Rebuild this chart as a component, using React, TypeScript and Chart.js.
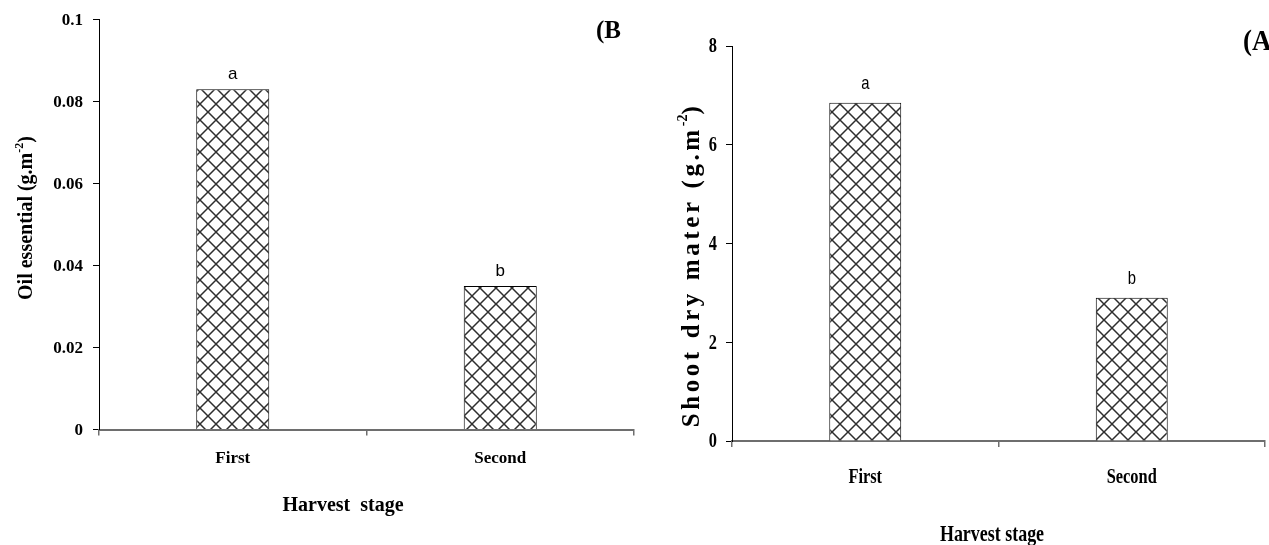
import React, { useEffect, useRef } from "react";
import { Chart, registerables } from "chart.js";

Chart.register(...registerables);

// ---------- data ----------
const categories = ["First", "Second"];

const oilValues = [0.083, 0.035];
const oilLetters = ["a", "b"];
const oilTicks = [0, 0.02, 0.04, 0.06, 0.08, 0.1];
const oilTickLabels = ["0", "0.02", "0.04", "0.06", "0.08", "0.1"];

const shootValues = [6.85, 2.9];
const shootLetters = ["a", "b"];
const shootTicks = [0, 2, 4, 6, 8];
const shootTickLabels = ["0", "2", "4", "6", "8"];

// ---------- helpers ----------
function makePattern(): CanvasPattern | string {
  const size = 16;
  const c = document.createElement("canvas");
  c.width = size;
  c.height = size;
  const g = c.getContext("2d");
  if (!g) return "#ccc";
  g.fillStyle = "#ffffff";
  g.fillRect(0, 0, size, size);
  g.strokeStyle = "#2e2e2e";
  g.lineWidth = 1.5;
  g.beginPath();
  g.moveTo(-2, -2);
  g.lineTo(size + 2, size + 2);
  g.moveTo(size + 2, -2);
  g.lineTo(-2, size + 2);
  g.stroke();
  return g.createPattern(c, "repeat") || "#ccc";
}

function drawText(
  ctx: CanvasRenderingContext2D,
  text: string,
  x: number,
  y: number,
  font: string,
  align: CanvasTextAlign,
  sx: number
) {
  ctx.save();
  ctx.font = font;
  ctx.fillStyle = "#000";
  ctx.textAlign = align;
  ctx.textBaseline = "middle";
  ctx.translate(x, y);
  ctx.scale(sx, 1);
  ctx.fillText(text, 0, 0);
  ctx.restore();
}

function drawRotatedTitle(
  ctx: CanvasRenderingContext2D,
  main: string,
  sup: string,
  close: string,
  cx: number,
  cy: number,
  fontSize: number,
  supSize: number,
  spacing: number,
  family: string
) {
  const font = `bold ${fontSize}px ${family}`;
  const supFont = `bold ${supSize}px ${family}`;
  ctx.save();
  ctx.translate(cx, cy);
  ctx.rotate(-Math.PI / 2);
  ctx.fillStyle = "#000";
  ctx.textBaseline = "alphabetic";
  ctx.textAlign = "left";
  const anyCtx = ctx as any;
  anyCtx.letterSpacing = spacing + "px";
  ctx.font = font;
  const w1 = ctx.measureText(main).width;
  const w3 = ctx.measureText(close).width;
  anyCtx.letterSpacing = "0px";
  ctx.font = supFont;
  const w2 = ctx.measureText(sup).width;
  const total = w1 + w2 + w3;
  let x = -total / 2;
  const base = fontSize * 0.3;
  anyCtx.letterSpacing = spacing + "px";
  ctx.font = font;
  ctx.fillText(main, x, base);
  x += w1;
  anyCtx.letterSpacing = "0px";
  ctx.font = supFont;
  ctx.fillText(sup, x, base - fontSize * 0.45);
  x += w2;
  anyCtx.letterSpacing = spacing + "px";
  ctx.font = font;
  ctx.fillText(close, x, base);
  anyCtx.letterSpacing = "0px";
  ctx.restore();
}

interface PanelCfg {
  values: number[];
  letters: string[];
  ticks: number[];
  tickLabels: string[];
  max: number;
  width: number;
  height: number;
  padTop: number;
  padRight: number;
  yWidth: number;
  xHeight: number;
  barPct: number;
  sx: number;
  tickFont: string;
  yLabelGap: number;
  xLabelY: number;
  letterFont: string;
  letterGap: number;
  panelLabel: string;
  panelFont: string;
  panelX: number;
  panelY: number;
  panelSx: number;
  xTitle: string;
  xTitleFont: string;
  xTitleX: number;
  xTitleY: number;
  yTitleMain: string;
  yTitleSize: number;
  yTitleSupSize: number;
  yTitleSpacing: number;
  yTitleX: number;
  yTitleY: number;
}

const serif = "'Liberation Serif', 'Times New Roman', serif";
const sans = "'Liberation Sans', Arial, sans-serif";

function buildChart(canvas: HTMLCanvasElement, p: PanelCfg): Chart {
  const textPlugin = {
    id: "panelText",
    afterDraw(chart: any) {
      const ctx: CanvasRenderingContext2D = chart.ctx;
      const xs = chart.scales.x;
      const ys = chart.scales.y;
      // y tick labels
      p.ticks.forEach((v, i) => {
        const py = ys.getPixelForValue(v);
        drawText(ctx, p.tickLabels[i], ys.right - p.yLabelGap, py + 1, p.tickFont, "right", p.sx);
      });
      // x tick labels
      categories.forEach((c, i) => {
        const px = xs.getPixelForValue(i);
        drawText(ctx, c, px, p.xLabelY, p.tickFont, "center", p.sx);
      });
      // letters above bars
      const meta = chart.getDatasetMeta(0);
      meta.data.forEach((el: any, i: number) => {
        drawText(ctx, p.letters[i], el.x, el.y - p.letterGap, p.letterFont, "center", p.sx);
      });
      // panel label
      drawText(ctx, p.panelLabel, p.panelX, p.panelY, p.panelFont, "left", p.panelSx);
      // x title
      drawText(ctx, p.xTitle, p.xTitleX, p.xTitleY, p.xTitleFont, "center", p.sx);
      // y title
      drawRotatedTitle(
        ctx,
        p.yTitleMain,
        "-2",
        ")",
        p.yTitleX,
        p.yTitleY,
        p.yTitleSize,
        p.yTitleSupSize,
        p.yTitleSpacing,
        serif
      );
    },
  };

  return new Chart(canvas, {
    type: "bar",
    data: {
      labels: categories,
      datasets: [
        {
          data: p.values,
          backgroundColor: makePattern() as any,
          borderColor: "#000",
          borderWidth: 1,
          barPercentage: p.barPct,
          categoryPercentage: 1,
        },
      ],
    },
    options: {
      responsive: false,
      animation: false,
      events: [],
      layout: {
        padding: { left: 0, top: p.padTop, right: p.padRight, bottom: 0 },
      },
      plugins: {
        legend: { display: false },
        tooltip: { enabled: false },
        title: { display: false },
      },
      scales: {
        x: {
          type: "category",
          grid: {
            offset: true,
            drawOnChartArea: false,
            drawTicks: true,
            tickLength: 6,
            color: "#6e6e6e",
            lineWidth: 1.5,
          },
          border: { display: true, color: "#6e6e6e", width: 2 },
          ticks: { display: false },
          afterFit: (scale: any) => {
            scale.height = p.xHeight;
          },
        },
        y: {
          type: "linear",
          min: 0,
          max: p.max,
          grid: {
            drawOnChartArea: false,
            drawTicks: true,
            tickLength: 6,
            color: "#000",
            lineWidth: 1,
          },
          border: { display: true, color: "#000", width: 1 },
          ticks: { display: false },
          afterBuildTicks: (scale: any) => {
            scale.ticks = p.ticks.map((v) => ({ value: v }));
          },
          afterFit: (scale: any) => {
            scale.width = p.yWidth;
          },
        },
      },
    },
    plugins: [textPlugin],
  });
}

const leftPanel: PanelCfg = {
  values: oilValues,
  letters: oilLetters,
  ticks: oilTicks,
  tickLabels: oilTickLabels,
  max: 0.1,
  width: 640,
  height: 545,
  padTop: 19.5,
  padRight: 6,
  yWidth: 99,
  xHeight: 115.5,
  barPct: 0.273,
  sx: 1,
  tickFont: `bold 17px ${serif}`,
  yLabelGap: 16,
  xLabelY: 459,
  letterFont: `17px ${sans}`,
  letterGap: 15,
  panelLabel: "(B",
  panelFont: `bold 25px ${serif}`,
  panelX: 596,
  panelY: 32,
  panelSx: 1,
  xTitle: "Harvest  stage",
  xTitleFont: `bold 20px ${serif}`,
  xTitleX: 343,
  xTitleY: 506,
  yTitleMain: "Oil essential (g.m",
  yTitleSize: 20,
  yTitleSupSize: 12,
  yTitleSpacing: 0,
  yTitleX: 26,
  yTitleY: 218,
};

const rightPanel: PanelCfg = {
  values: shootValues,
  letters: shootLetters,
  ticks: shootTicks,
  tickLabels: shootTickLabels,
  max: 8,
  width: 629,
  height: 545,
  padTop: 46,
  padRight: 4,
  yWidth: 92,
  xHeight: 104,
  barPct: 0.27,
  sx: 0.78,
  tickFont: `bold 21px ${serif}`,
  yLabelGap: 15,
  xLabelY: 478,
  letterFont: `19px ${sans}`,
  letterGap: 19,
  panelLabel: "(A",
  panelFont: `bold 30px ${serif}`,
  panelX: 603,
  panelY: 42,
  panelSx: 0.9,
  xTitle: "Harvest stage",
  xTitleFont: `bold 23px ${serif}`,
  xTitleX: 352,
  xTitleY: 535,
  yTitleMain: "Shoot dry mater (g.m",
  yTitleSize: 25,
  yTitleSupSize: 14,
  yTitleSpacing: 3.6,
  yTitleX: 51,
  yTitleY: 265,
};

export default function App() {
  const leftRef = useRef<HTMLCanvasElement>(null);
  const rightRef = useRef<HTMLCanvasElement>(null);

  useEffect(() => {
    const charts: Chart[] = [];
    if (leftRef.current) charts.push(buildChart(leftRef.current, leftPanel));
    if (rightRef.current) charts.push(buildChart(rightRef.current, rightPanel));
    return () => {
      charts.forEach((c) => c.destroy());
    };
  }, []);

  return (
    <div
      style={{
        position: "absolute",
        left: 0,
        top: 0,
        width: 1269,
        height: 545,
        background: "#fff",
        overflow: "hidden",
      }}
    >
      <canvas
        ref={leftRef}
        width={leftPanel.width}
        height={leftPanel.height}
        style={{ position: "absolute", left: 0, top: 0, width: leftPanel.width, height: leftPanel.height }}
      />
      <canvas
        ref={rightRef}
        width={rightPanel.width}
        height={rightPanel.height}
        style={{ position: "absolute", left: 640, top: 0, width: rightPanel.width, height: rightPanel.height }}
      />
    </div>
  );
}
